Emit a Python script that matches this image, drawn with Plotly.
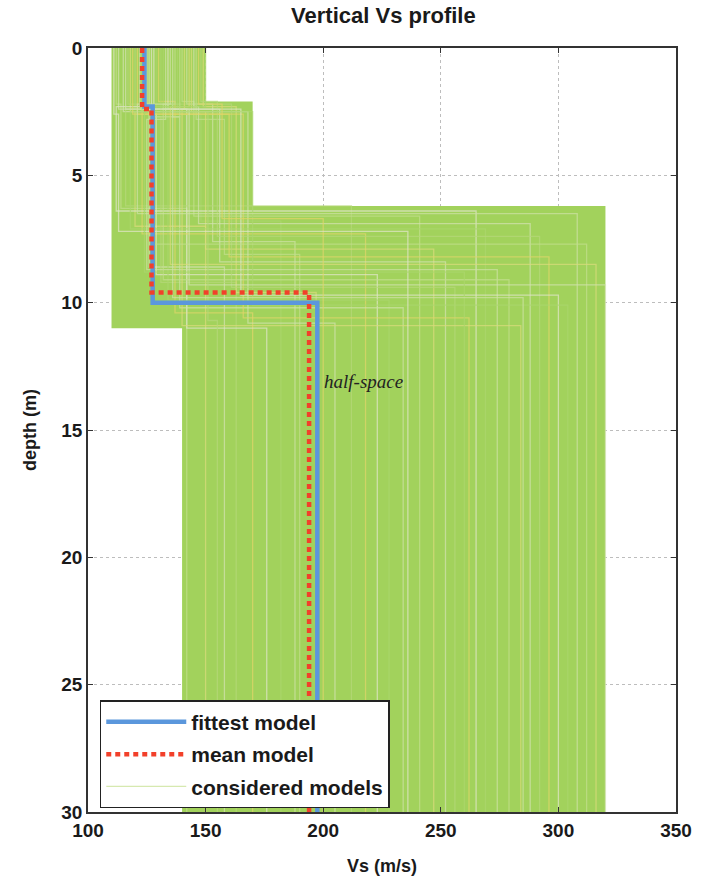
import plotly.graph_objects as go

# Envelope of the considered-model ensemble (Vs in m/s, depth in m)
env_vs = [110, 150, 150, 170, 170, 320, 320, 140, 140, 110, 110]
env_z = [0, 0, 2.1, 2.1, 6.2, 6.2, 30, 30, 11, 11, 0]

# Individual considered models: layer-1 Vs / bottom, layer-2 Vs / bottom, half-space Vs
model_vs1 = [112, 118, 122, 126, 130, 134, 138, 142, 146, 149, 115, 120, 124, 128, 132, 136, 140, 144, 113, 117,
             121, 125, 129, 133, 137, 141, 145, 148, 119, 127, 131, 135, 139, 143, 116, 123, 147, 111, 150, 126]
model_z1 = [2.2, 2.5, 2.3, 2.7, 2.1, 2.4, 2.6, 2.2, 2.8, 2.3, 2.5, 2.4, 2.2, 2.6, 2.3, 2.7, 2.1, 2.5, 2.4, 2.2,
            2.6, 2.3, 2.5, 2.8, 2.2, 2.4, 2.3, 2.1, 2.6, 2.4, 2.5, 2.2, 2.7, 2.3, 2.4, 2.5, 2.2, 2.6, 2.3, 2.4]
model_vs2 = [114, 120, 126, 131, 137, 142, 148, 153, 158, 163, 168, 116, 123, 129, 134, 139, 145, 150, 156, 161,
             166, 112, 118, 125, 132, 140, 147, 155, 160, 165, 170, 121, 127, 135, 143, 151, 157, 113, 124, 136]
model_z2 = [6.3, 7.0, 8.6, 9.2, 10.4, 11.0, 6.8, 7.6, 8.1, 9.6, 10.8, 6.2, 7.3, 8.9, 9.9, 10.2, 6.6, 7.9, 8.4, 9.4,
            10.6, 6.4, 7.1, 8.7, 9.1, 10.9, 6.9, 7.4, 8.2, 9.7, 10.1, 6.5, 7.7, 8.5, 9.3, 10.7, 6.7, 7.2, 8.8, 9.8]
model_vs3 = [142, 150, 158, 163, 170, 176, 182, 188, 190, 197, 205, 212, 218, 223, 228, 234, 241, 247, 252, 256,
             262, 265, 269, 274, 279, 284, 288, 292, 296, 300, 304, 308, 312, 316, 320, 155, 200, 236, 260, 285]

# Fittest and mean profiles (step models)
fit_vs = [124, 124, 127.5, 127.5, 197.5, 197.5]
fit_z = [0, 2.3, 2.3, 10.0, 10.0, 30]
mean_vs = [123, 123, 127, 127, 194, 194]
mean_z = [0, 2.4, 2.4, 9.6, 9.6, 30]

x_ticks = [100, 150, 200, 250, 300, 350]
y_ticks = [0, 5, 10, 15, 20, 25, 30]

line_palette = ["#c4df8e", "#dcdc7c", "#d4e3b2", "#b6d97a", "#e2d66a", "#e2e6cc", "#acd76e", "#cfe3a6"]

fig = go.Figure()

# Ensemble envelope
fig.add_trace(go.Scatter(
    x=env_vs, y=env_z, mode="lines", fill="toself", fillcolor="#a2d25c",
    line=dict(width=0, color="#a2d25c"), hoverinfo="skip", showlegend=False,
))

# Individual considered models
for i in range(len(model_vs1)):
    xs = [model_vs1[i], model_vs1[i], model_vs2[i], model_vs2[i], model_vs3[i], model_vs3[i]]
    zs = [0, model_z1[i], model_z1[i], model_z2[i], model_z2[i], 30]
    fig.add_trace(go.Scatter(
        x=xs, y=zs, mode="lines", opacity=0.7,
        line=dict(width=1.3, color=line_palette[i % len(line_palette)]),
        name="considered models", legendgroup="considered", legendrank=3,
        showlegend=(i == 0), hoverinfo="skip",
    ))

fig.add_trace(go.Scatter(
    x=fit_vs, y=fit_z, mode="lines", name="fittest model",
    line=dict(width=4.5, color="#5b97dc"), legendgroup="fit", legendrank=1,
))
fig.add_trace(go.Scatter(
    x=mean_vs, y=mean_z, mode="lines", name="mean model",
    line=dict(width=4.5, color="#f2402a", dash="5px,4px"), legendgroup="mean", legendrank=2,
))

fig.add_annotation(
    x=199.5, y=13.1, xref="x", yref="y", text="half-space", showarrow=False,
    xanchor="left", yanchor="middle",
    font=dict(family="Liberation Serif, DejaVu Serif, serif", size=19, color="#222222", style="italic"),
)

sans = "Liberation Sans, Arial, sans-serif"
tick_font = dict(family=sans, size=19, color="#1a1a1a", weight="bold")
title_font = dict(family=sans, size=18, color="#1a1a1a", weight="bold")

fig.update_layout(
    width=710, height=882,
    margin=dict(l=88, r=34, t=48, b=70),
    paper_bgcolor="white", plot_bgcolor="white",
    title=dict(
        text="Vertical Vs profile", x=0.54, xanchor="center",
        y=1 - 15 / 882, yref="container", yanchor="middle",
        font=dict(family=sans, size=22, color="#1a1a1a", weight="bold"),
    ),
    showlegend=True,
    legend=dict(
        x=0.02, y=0.005, xanchor="left", yanchor="bottom",
        bgcolor="white", bordercolor="#222222", borderwidth=1.5,
        font=dict(family=sans, size=21, color="#1a1a1a", weight="bold"),
        traceorder="grouped", tracegroupgap=2, itemwidth=80,
    ),
)

fig.update_xaxes(
    range=[100, 350], tickvals=x_ticks, ticktext=[str(v) for v in x_ticks],
    ticks="inside", ticklen=5, tickcolor="#333333", mirror="ticks",
    showline=True, linecolor="#333333", linewidth=1.5,
    showgrid=True, gridcolor="#bdbdbd", griddash="dot", gridwidth=1, zeroline=False,
    tickfont=tick_font, automargin=False,
    title=dict(text="Vs (m/s)", font=title_font, standoff=20),
)
fig.update_yaxes(
    range=[30, 0], tickvals=y_ticks, ticktext=[str(v) for v in y_ticks],
    ticks="inside", ticklen=5, tickcolor="#333333", mirror="ticks",
    showline=True, linecolor="#333333", linewidth=1.5,
    showgrid=True, gridcolor="#bdbdbd", griddash="dot", gridwidth=1, zeroline=False,
    tickfont=tick_font, automargin=False,
    title=dict(text="depth (m)", font=title_font, standoff=20),
)

fig.write_html("out.html")
